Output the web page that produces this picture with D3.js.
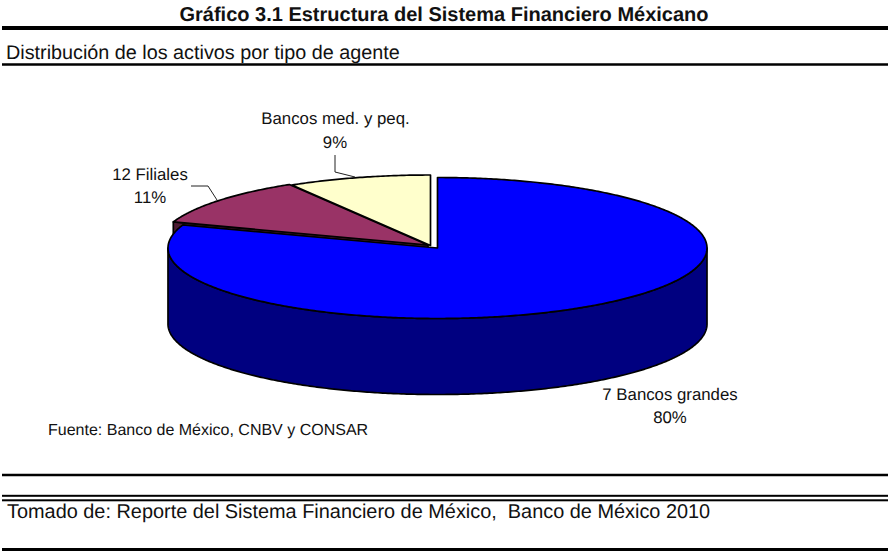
<!DOCTYPE html>
<html><head><meta charset="utf-8">
<script src="https://cdn.jsdelivr.net/npm/d3@7"></script>
<style>html,body{margin:0;background:#fff}svg{display:block}text{font-family:"Liberation Sans",Arial,sans-serif;fill:#111;text-rendering:geometricPrecision}</style>
</head><body><svg id="c" width="888" height="552"></svg>
<script>
const categories = ["7 Bancos grandes","12 Filiales","Bancos med. y peq."];
const values = [80.3,11.1,8.6];
const topColors = ["#0000ff","#993366","#ffffcc"];
const sideColors = ["#000080","#4d1a33","#80806a"];
const W=888;
const svg=d3.select("#c");
const pie=d3.pie().sort(null).value(d=>d).startAngle(0).endAngle(2*Math.PI)(values);
const pct=v=>d3.format(".0f")(v)+"%";

const RX=269.5, RY=70.5, DEPTH=76;
const centers=[{x:437.5,y:248},{x:428,y:245},{x:430.5,y:245.5}];
const pt=(c,a,dy=0)=>[c.x+RX*Math.sin(a),c.y-RY*Math.cos(a)+dy];
const arcPts=(c,a0,a1,dy=0)=>{
  const n=Math.max(2,Math.ceil(Math.abs(a1-a0)/0.01)),s=d3.scaleLinear().domain([0,n]).range([a0,a1]);
  return d3.range(n+1).map(i=>pt(c,s(i),dy));
};
const line=d3.line();
const sideOf=(c,a0,a1)=>line([...arcPts(c,a0,a1),...arcPts(c,a1,a0,DEPTH)])+"Z";
const topOf=(c,a0,a1)=>line([[c.x,c.y],...arcPts(c,a0,a1)])+"Z";
const cutFace=(c,a)=>line([[c.x,c.y],pt(c,a),pt(c,a,DEPTH),[c.x,c.y+DEPTH]])+"Z";
const applyS=s=>s.attr("stroke","#000").attr("stroke-width",1.7).attr("stroke-linejoin","round");

const HALF=Math.PI/2, TQ=3*Math.PI/2;
applyS(svg.append("path").attr("d",cutFace(centers[1],pie[1].startAngle)).attr("fill",sideColors[1]));
applyS(svg.append("path").attr("d",sideOf(centers[0],HALF,TQ)).attr("fill",sideColors[0]));
[1,2,0].forEach(i=>{
  applyS(svg.append("path").attr("d",topOf(centers[i],pie[i].startAngle,pie[i].endAngle)).attr("fill",topColors[i]));
});

const leader=[[[191,186],[208,186],[217,200]],[[335,155],[335,172],[355,177]]];
leader.forEach(l=>svg.append("path").attr("d",line(l)).attr("fill","none").attr("stroke","#222").attr("stroke-width",1));

const rules=[[28,4],[64.5,2.5],[475,2.5],[495.8,2],[500.3,2],[549.5,3]];
rules.forEach(([y,h])=>svg.append("rect").attr("x",2).attr("y",y-h/2).attr("width",W-2).attr("height",h).attr("fill","#000"));

const txt=(s,x,y,size,anchor="start",w=null)=>{const t=svg.append("text").attr("x",x).attr("y",y).attr("font-size",size).attr("text-anchor",anchor).text(s);if(w)t.attr("font-weight",w);return t};
txt("Gráfico 3.1 Estructura del Sistema Financiero Méxicano",444,20.5,20,"middle","bold");
txt("Distribución de los activos por tipo de agente",6,59,19.8);
txt(categories[2],335.5,124,16.8,"middle");
txt(pct(values[2]),335,148,16.8,"middle");
txt(categories[1],150,180,16.8,"middle");
txt(pct(values[1]),150,203,16.8,"middle");
txt(categories[0],670,400,16.8,"middle");
txt(pct(values[0]),670,423,16.8,"middle");
txt("Fuente: Banco de México, CNBV y CONSAR",48,435,16);
txt("Tomado de: Reporte del Sistema Financiero de México,  Banco de México 2010",7,518,19.9).style("white-space","pre");
</script></body></html>
